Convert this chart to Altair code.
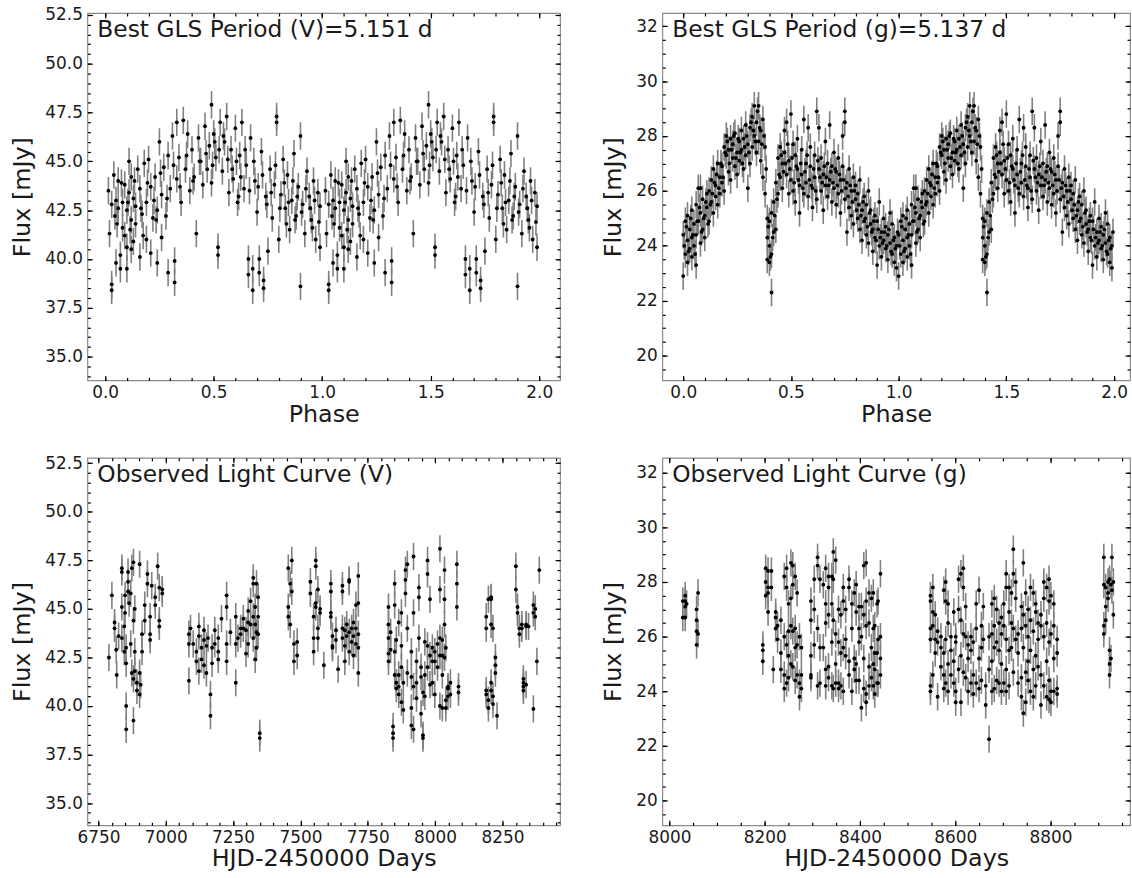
import altair as alt
import pandas as pd

FONT = "DejaVu Sans"
TXT = "#1a1a1a"

# ---------------- data ----------------
V_ERR = 0.7   # typical V-band flux error [mJy]
G_ERR = 0.5   # typical g-band flux error [mJy]

# phase-folded V band: (phase, flux)
V_PHASE_PTS = [
    (0.02, 41.3), (0.03, 38.7), (0.03, 38.4), (0.03, 42.8), (0.04, 44.3), (0.05, 39.8), (0.05, 43.0),
    (0.06, 42.6), (0.06, 44.0), (0.07, 40.2), (0.07, 39.5), (0.08, 42.9), (0.08, 41.6), (0.09, 43.8),
    (0.09, 41.2), (0.10, 40.6), (0.10, 39.5), (0.10, 42.5), (0.11, 45.0), (0.11, 43.4), (0.12, 40.5),
    (0.12, 42.0), (0.12, 44.2), (0.13, 40.9), (0.13, 43.1), (0.14, 41.8), (0.14, 42.7), (0.15, 44.6),
    (0.16, 40.1), (0.16, 43.6), (0.17, 42.3), (0.18, 44.9), (0.19, 41.0), (0.19, 42.9), (0.20, 45.1),
    (0.21, 40.3), (0.21, 43.7), (0.22, 42.1), (0.23, 44.2), (0.24, 39.8), (0.24, 42.5), (0.25, 46.0),
    (0.26, 41.1), (0.26, 43.3), (0.27, 44.7), (0.28, 42.2), (0.29, 39.3), (0.29, 45.3), (0.30, 43.6),
    (0.31, 46.3), (0.32, 39.9), (0.32, 38.8), (0.33, 47.0), (0.33, 44.1), (0.34, 45.2), (0.35, 42.9),
    (0.36, 47.1), (0.37, 44.6), (0.38, 46.4), (0.39, 43.5), (0.40, 45.6), (0.41, 44.2), (0.42, 41.3),
    (0.43, 46.2), (0.44, 45.0), (0.45, 43.8), (0.46, 46.8), (0.47, 44.6), (0.48, 45.8), (0.49, 47.9),
    (0.49, 43.9), (0.50, 46.4), (0.51, 45.2), (0.52, 40.6), (0.52, 40.2), (0.53, 47.0), (0.54, 44.5),
    (0.55, 46.0), (0.56, 47.3), (0.57, 43.4), (0.58, 45.6), (0.59, 44.1), (0.60, 46.7), (0.61, 42.9),
    (0.62, 45.3), (0.63, 47.0), (0.64, 43.6), (0.65, 44.8), (0.66, 40.0), (0.66, 39.2), (0.67, 46.2),
    (0.68, 38.4), (0.68, 39.5), (0.69, 44.0), (0.70, 42.4), (0.71, 40.0), (0.71, 39.3), (0.72, 45.5),
    (0.73, 38.9), (0.73, 38.5), (0.74, 43.2), (0.75, 40.4), (0.76, 44.6), (0.77, 42.1), (0.78, 43.8),
    (0.79, 47.3), (0.79, 47.0), (0.80, 41.0), (0.81, 43.3), (0.82, 45.1), (0.83, 42.6), (0.84, 44.3),
    (0.85, 41.5), (0.86, 43.0), (0.87, 45.4), (0.88, 42.2), (0.89, 43.7), (0.90, 38.6), (0.90, 46.3),
    (0.91, 42.8), (0.92, 41.3), (0.93, 44.5), (0.94, 43.2), (0.95, 42.0), (0.96, 44.0), (0.97, 41.0),
    (0.98, 43.4), (0.99, 40.6), (0.99, 42.7),
    (0.015, 43.5), (0.045, 42.2), (0.075, 43.9), (0.105, 42.9), (0.135, 44.0), (0.165, 42.6),
    (0.195, 43.9), (0.225, 43.0), (0.255, 44.4), (0.285, 43.1), (0.315, 44.8), (0.345, 43.7),
    (0.375, 45.3), (0.405, 44.0), (0.435, 45.0), (0.465, 45.4), (0.495, 44.8), (0.505, 46.0),
    (0.525, 45.6), (0.545, 46.3), (0.565, 45.1), (0.585, 44.6), (0.605, 45.0), (0.625, 44.2),
    (0.645, 45.6), (0.665, 43.5), (0.685, 45.0), (0.705, 43.7), (0.725, 44.3), (0.745, 42.8),
    (0.765, 43.4), (0.785, 44.8), (0.805, 42.6), (0.825, 43.9), (0.845, 42.9), (0.865, 44.0),
    (0.885, 43.2), (0.905, 42.4), (0.925, 43.6), (0.945, 42.6), (0.965, 43.0), (0.985, 41.9),
    (0.055, 41.8), (0.115, 41.5), (0.175, 41.2), (0.235, 42.0), (0.615, 43.2), (0.835, 41.8),
    (0.875, 42.0), (0.955, 41.6),
]

# phase-folded g band: (phase, flux)
G_PHASE_PTS = [
    (0.00, 22.9), (0.00, 24.4), (0.01, 23.7), (0.01, 24.9), (0.02, 24.2), (0.02, 23.4), (0.02, 25.1),
    (0.03, 24.6), (0.03, 23.9), (0.04, 24.3), (0.04, 25.3), (0.04, 23.6), (0.05, 24.8), (0.05, 24.0),
    (0.06, 25.5), (0.06, 24.4), (0.06, 23.3), (0.07, 26.1), (0.07, 24.9), (0.08, 24.1), (0.08, 25.2),
    (0.08, 26.1), (0.09, 24.6), (0.09, 25.7), (0.10, 24.3), (0.10, 25.1), (0.11, 25.9), (0.11, 25.4),
    (0.12, 24.9), (0.12, 26.0), (0.13, 25.6), (0.13, 26.4), (0.14, 25.2), (0.14, 26.8), (0.15, 25.8),
    (0.15, 26.2), (0.16, 27.0), (0.16, 25.5), (0.17, 26.5), (0.17, 25.9), (0.18, 26.9), (0.18, 26.3),
    (0.19, 27.6), (0.19, 26.0), (0.20, 27.3), (0.20, 28.0), (0.21, 26.7), (0.21, 27.5), (0.22, 27.9),
    (0.22, 26.4), (0.23, 27.2), (0.23, 27.7), (0.24, 26.9), (0.24, 28.1), (0.25, 27.4), (0.25, 26.6),
    (0.26, 27.8), (0.26, 27.1), (0.27, 28.2), (0.27, 27.5), (0.28, 26.8), (0.28, 27.9), (0.29, 27.3),
    (0.29, 28.4), (0.30, 26.1), (0.30, 27.7), (0.31, 28.3), (0.31, 27.0), (0.32, 28.7), (0.32, 27.6),
    (0.33, 28.0), (0.33, 29.1), (0.34, 27.4), (0.34, 28.5), (0.35, 29.1), (0.35, 27.8), (0.36, 28.2),
    (0.36, 27.1), (0.37, 28.6), (0.37, 26.5), (0.38, 27.6), (0.38, 25.9), (0.39, 24.3), (0.39, 25.0),
    (0.39, 23.5), (0.40, 24.9), (0.40, 23.4), (0.40, 24.0), (0.41, 22.3), (0.41, 23.7), (0.41, 25.2),
    (0.42, 24.5), (0.42, 25.6), (0.43, 24.6), (0.43, 26.3), (0.44, 27.2), (0.44, 25.9), (0.45, 27.6),
    (0.45, 26.5), (0.46, 27.0), (0.46, 26.1), (0.47, 28.2), (0.47, 27.4), (0.48, 26.6), (0.48, 28.5),
    (0.49, 27.1), (0.49, 25.9), (0.50, 28.8), (0.50, 26.4), (0.51, 27.7), (0.51, 26.0), (0.52, 27.3),
    (0.52, 25.6), (0.53, 26.8), (0.53, 27.9), (0.54, 26.2), (0.54, 25.2), (0.55, 27.5), (0.55, 26.6),
    (0.56, 28.6), (0.56, 25.9), (0.57, 27.0), (0.57, 26.3), (0.58, 28.3), (0.58, 25.8), (0.59, 26.9),
    (0.59, 27.6), (0.60, 26.1), (0.60, 25.4), (0.61, 27.3), (0.61, 26.5), (0.62, 28.9), (0.62, 25.7),
    (0.63, 26.8), (0.63, 28.3), (0.64, 26.0), (0.64, 27.2), (0.65, 25.3), (0.65, 26.6), (0.66, 27.8),
    (0.66, 26.2), (0.67, 25.8), (0.67, 27.0), (0.68, 26.4), (0.68, 28.4), (0.69, 25.6), (0.69, 26.9),
    (0.70, 27.4), (0.70, 26.1), (0.71, 25.5), (0.71, 26.7), (0.72, 27.2), (0.72, 25.9), (0.73, 26.4),
    (0.73, 25.2), (0.74, 26.9), (0.74, 28.0), (0.75, 28.9), (0.75, 28.5), (0.75, 25.7), (0.76, 26.3),
    (0.76, 24.5), (0.77, 26.8), (0.77, 25.4), (0.78, 26.0), (0.78, 25.1), (0.79, 26.5), (0.79, 24.8),
    (0.80, 25.7), (0.80, 26.2), (0.81, 25.0), (0.81, 25.9), (0.82, 24.6), (0.82, 26.4), (0.83, 25.3),
    (0.83, 24.2), (0.84, 25.8), (0.84, 24.9), (0.85, 24.4), (0.85, 25.5), (0.86, 26.0), (0.86, 24.1),
    (0.87, 24.8), (0.87, 25.3), (0.88, 23.8), (0.88, 24.6), (0.89, 25.1), (0.89, 24.3), (0.90, 23.3),
    (0.90, 24.9), (0.91, 24.0), (0.91, 25.6), (0.92, 24.5), (0.92, 23.6), (0.93, 24.2), (0.93, 25.0),
    (0.94, 23.9), (0.94, 24.7), (0.95, 23.5), (0.95, 24.4), (0.96, 24.1), (0.96, 25.2), (0.97, 23.7),
    (0.97, 24.8), (0.98, 23.4), (0.98, 24.3), (0.99, 24.0), (0.99, 23.2),
    (0.005, 24.0), (0.015, 24.7), (0.025, 23.8), (0.035, 25.0), (0.045, 24.4), (0.055, 23.7),
    (0.065, 24.9), (0.075, 25.4), (0.085, 24.5), (0.095, 25.0), (0.105, 25.6), (0.115, 24.8),
    (0.125, 25.5), (0.135, 25.9), (0.145, 26.3), (0.155, 26.6), (0.165, 26.1), (0.175, 27.0),
    (0.185, 26.5), (0.195, 27.4), (0.205, 27.8), (0.215, 27.0), (0.225, 27.5), (0.235, 28.0),
    (0.245, 27.2), (0.255, 27.9), (0.265, 27.4), (0.275, 27.0), (0.285, 27.6), (0.295, 28.0),
    (0.305, 27.4), (0.315, 28.5), (0.325, 28.2), (0.335, 27.8), (0.345, 28.9), (0.355, 28.3),
    (0.365, 27.7), (0.375, 28.0), (0.385, 26.8), (0.395, 24.7), (0.405, 23.6), (0.415, 24.3),
    (0.425, 25.1), (0.435, 25.7), (0.445, 26.6), (0.455, 27.3), (0.465, 26.7), (0.475, 27.0),
    (0.485, 27.7), (0.495, 26.8), (0.505, 27.2), (0.515, 26.3), (0.525, 26.9), (0.535, 26.4),
    (0.545, 27.0), (0.555, 26.1), (0.565, 26.7), (0.575, 27.3), (0.585, 26.4), (0.595, 26.2),
    (0.605, 26.8), (0.615, 26.0), (0.625, 27.1), (0.635, 26.5), (0.645, 26.3), (0.655, 26.9),
    (0.665, 26.5), (0.675, 26.2), (0.685, 26.7), (0.695, 26.3), (0.705, 26.8), (0.715, 26.2),
    (0.725, 26.6), (0.735, 26.0), (0.745, 26.4), (0.755, 26.1), (0.765, 25.8), (0.775, 26.2),
    (0.785, 25.6), (0.795, 26.0), (0.805, 25.3), (0.815, 25.5), (0.825, 25.1), (0.835, 25.6),
    (0.845, 25.0), (0.855, 24.7), (0.865, 25.2), (0.875, 24.5), (0.885, 24.9), (0.895, 24.2),
    (0.905, 24.6), (0.915, 24.3), (0.925, 24.1), (0.935, 24.5), (0.945, 24.0), (0.955, 24.6),
    (0.965, 23.8), (0.975, 24.2), (0.985, 23.9), (0.995, 24.5),
]

# V-band light curve: (HJD-2450000, [fluxes observed around that date])
V_TIME_PTS = [
    (6789, [42.5]), (6800, [45.7]), (6810, [44.3, 44.0]), (6816, [42.9]), (6818, [41.6]), (6825, [43.6]),
    (6837, [47.1, 46.9, 45.1, 43.5]), (6846, [44.1, 42.8]), (6849, [45.7, 44.8]),
    (6853, [40.0, 38.8, 43.0, 42.2]), (6860, [46.9, 46.4, 45.9]), (6864, [45.3]), (6870, [45.8, 43.2]),
    (6874, [47.1, 41.7]), (6880, [47.4, 44.4, 41.4, 39.25]), (6885, [45.0, 42.8, 41.8]),
    (6893, [41.2, 40.8]), (6903, [47.3, 41.7, 40.6]), (6907, [41.1]), (6912, [43.7, 42.8]),
    (6922, [45.2, 44.4]), (6932, [46.8, 46.3]), (6942, [44.6, 43.7, 43.4]), (6948, [46.2]),
    (6961, [45.6, 45.2]), (6970, [47.2]), (6976, [46.1, 44.4, 44.1]), (6987, [46.0, 45.8]),
    (7086, [43.7, 43.2, 41.3]), (7092, [44.0]), (7102, [43.2]), (7114, [42.8, 42.3]),
    (7123, [44.1, 43.6, 41.8]), (7133, [43.0, 42.4]), (7142, [43.9, 43.4, 42.1]), (7151, [41.7, 43.1]),
    (7157, [43.5]), (7166, [40.6, 39.5]), (7172, [43.0, 42.2]), (7182, [43.9, 43.2]),
    (7195, [43.5, 42.8, 42.4]), (7207, [44.5]), (7226, [45.7, 45.1, 43.2, 42.3]), (7240, [43.8]),
    (7260, [44.6, 43.2, 41.2]), (7268, [43.5]), (7278, [44.0, 43.7]), (7288, [44.5, 44.0]),
    (7298, [43.9, 42.7]), (7306, [44.9, 44.3, 43.2]), (7315, [45.4, 44.2]),
    (7325, [46.6, 46.3, 44.6, 43.5]), (7332, [45.1, 44.2, 42.4]), (7337, [46.3, 43.8, 43.0]),
    (7343, [45.6, 44.6, 43.7]), (7349, [38.6, 38.35]),
    (7455, [47.1, 45.1, 44.6]), (7462, [46.3, 44.2]), (7468, [47.5, 45.9]), (7476, [43.2, 42.3]),
    (7488, [43.3, 42.6]), (7537, [46.4, 45.8]), (7549, [44.6, 43.5, 42.8]),
    (7557, [47.5, 47.2, 45.3, 45.1]), (7565, [46.0, 44.0, 43.5]), (7573, [45.0, 44.8]), (7587, [42.1]),
    (7613, [46.3, 45.9, 44.8, 44.6]), (7619, [43.6, 43.1, 43.0]), (7632, [43.9, 43.4]), (7640, [41.9]),
    (7656, [46.2, 45.9, 44.0, 43.5]), (7665, [43.9, 43.1, 42.3]), (7672, [44.2, 43.6]),
    (7681, [46.5, 46.4, 43.8, 42.8]), (7690, [44.0, 43.3]), (7697, [44.3, 43.6, 42.6]),
    (7706, [45.2, 44.0, 43.2]), (7715, [46.7, 45.3, 43.7, 43.0, 41.7]),
    (7827, [45.1, 44.2, 43.5, 42.7, 42.3]), (7835, [43.8, 42.9]), (7844, [38.95, 38.6, 38.35]),
    (7850, [46.3, 45.2, 42.8, 41.6]), (7856, [43.4, 41.2, 40.9]), (7865, [44.3, 41.6, 41.0, 40.6]),
    (7875, [44.8, 43.1, 42.0, 40.2]), (7882, [41.2, 39.8]), (7890, [47.0, 46.5, 45.8]),
    (7897, [47.3, 44.0, 41.7]), (7912, [42.8, 41.5, 39.9, 39.0]), (7920, [47.7, 44.8, 41.0, 38.8]),
    (7931, [42.3, 41.2, 40.4]), (7940, [46.1, 45.6, 43.5]), (7948, [42.0, 41.5, 39.6]),
    (7955, [40.7, 38.5, 38.35]), (7962, [43.3, 41.6, 40.5]), (7972, [47.5, 46.8, 43.1, 42.0]),
    (7981, [45.5, 42.6, 41.1]), (7990, [43.0, 42.3, 41.2]), (7999, [42.8, 42.3, 40.6]),
    (8009, [43.2, 42.0]), (8018, [48.1, 46.0, 43.5, 42.6, 40.0]), (8027, [43.4, 42.6, 41.6, 39.9]),
    (8035, [47.0, 45.5, 44.2, 42.5]), (8040, [43.0, 40.3, 39.9]), (8048, [41.0, 40.9, 40.5]),
    (8057, [41.2, 40.6]), (8081, [47.3, 46.3, 45.1]), (8087, [40.7, 41.0]),
    (8190, [44.6, 44.0, 40.8, 40.6]), (8198, [45.5, 40.3, 39.9]), (8208, [45.6, 45.5, 44.2, 41.2, 40.8]),
    (8215, [44.0, 40.5, 40.1]), (8224, [42.5, 42.1, 41.7]), (8230, [39.5]),
    (8300, [47.2, 46.0]), (8306, [45.1, 44.8]), (8313, [44.0, 43.7]), (8322, [44.2, 44.0]),
    (8328, [41.4, 41.2, 41.0, 40.8]), (8338, [44.2, 44.1, 41.1]), (8347, [44.1]),
    (8365, [45.2, 44.8, 39.85]), (8372, [45.0, 44.6]), (8378, [42.3]), (8387, [47.0]),
]

# g-band light curve: (HJD-2450000, [fluxes observed around that date])
G_TIME_PTS = [
    (8028, [27.3, 26.7]), (8033, [27.5, 27.3, 27.1, 26.7]), (8036, [27.2]),
    (8057, [27.0, 26.6, 26.2, 25.7]), (8060, [27.6, 26.1]),
    (8196, [25.7, 25.5, 25.1]), (8202, [28.5, 28.0, 27.5]), (8207, [28.4, 27.8, 27.6, 26.9]),
    (8214, [28.4, 27.8]), (8218, [24.8]), (8223, [26.9, 26.7, 26.3]), (8227, [26.4, 25.9]),
    (8234, [26.6, 25.4, 24.8]), (8241, [28.2, 26.0, 24.6, 24.1]), (8246, [28.5, 27.8, 25.7, 24.3]),
    (8250, [27.2, 26.2, 25.3, 24.5]), (8255, [28.7, 27.4, 26.4, 25.0]), (8259, [28.6, 27.9, 26.2, 24.9]),
    (8264, [28.2, 26.3, 25.6, 24.4]), (8268, [27.6, 25.7, 24.6]), (8273, [26.0, 24.3, 23.8]),
    (8277, [25.6, 24.6, 24.1]), (8297, [27.3, 26.6, 25.3, 24.6, 24.5]), (8304, [28.1, 27.0, 25.7]),
    (8311, [28.9, 28.6, 26.3, 24.2]), (8316, [28.1, 25.6, 24.3]), (8323, [27.9, 25.6]),
    (8328, [28.5, 27.2, 26.5, 24.8, 24.2]), (8334, [28.2, 27.8, 26.8, 24.9, 24.5]),
    (8341, [28.2, 27.2, 25.8, 24.2]), (8344, [29.1, 28.1, 26.6, 24.1]), (8349, [28.8, 26.1, 25.0, 24.3]),
    (8355, [27.0, 25.8, 24.3, 24.1]), (8360, [26.8, 25.4, 24.2]), (8365, [27.8, 27.3, 25.6, 24.0]),
    (8370, [27.0, 25.9, 25.3]), (8377, [28.1, 27.8, 25.1, 24.6]), (8383, [27.2, 26.3, 24.0]),
    (8388, [27.6, 25.2, 24.8]), (8392, [27.9, 26.9, 25.0, 24.4]), (8398, [27.1, 26.3, 25.8, 24.4]),
    (8403, [27.1, 26.0, 23.4]), (8408, [28.6, 26.8, 25.2, 24.1]), (8413, [28.7, 27.3, 26.4, 23.9, 23.6]),
    (8419, [27.6, 26.5, 24.9, 24.2]), (8424, [27.4, 25.6, 24.5]), (8428, [27.6, 26.3, 25.0, 24.2]),
    (8431, [26.4, 25.4, 24.8, 23.9]), (8436, [27.2, 25.4, 24.3]), (8438, [27.3, 25.9, 24.3]),
    (8443, [28.3, 26.0, 25.2, 24.6]),
    (8548, [27.5, 27.3, 26.3, 25.9, 24.2, 24.0]), (8553, [27.8, 26.9, 26.4, 24.6]),
    (8558, [26.8, 25.9, 25.4]), (8563, [26.2, 25.8, 23.8]), (8570, [26.0, 25.6, 24.9]),
    (8576, [27.7, 25.4, 24.6, 24.1]), (8580, [28.0, 27.3, 25.9, 24.3]), (8585, [27.2, 26.5, 25.0, 24.0]),
    (8591, [26.0, 25.5, 24.6]), (8597, [26.9, 25.1, 24.3]), (8601, [26.0, 25.8, 24.0, 23.6]),
    (8607, [28.1, 27.0, 24.8]), (8612, [28.3, 26.6, 25.3, 23.6]), (8617, [28.5, 27.8, 26.1, 24.7]),
    (8622, [27.1, 26.0, 24.5]), (8627, [25.7, 25.2, 24.0]), (8633, [26.0, 25.5, 24.3]),
    (8638, [25.8, 24.6, 23.9]), (8644, [27.2, 26.3, 24.3]), (8650, [27.7, 25.2, 24.1]),
    (8655, [26.4, 25.6, 24.4]), (8659, [27.1, 25.9]), (8664, [24.2, 23.5]), (8671, [26.0, 24.8, 22.25]),
    (8677, [27.2, 26.1, 25.1, 24.0]), (8682, [27.4, 26.4, 25.6, 24.1]), (8687, [27.0, 25.8, 24.4]),
    (8692, [26.5, 25.5, 24.3]), (8697, [26.7, 26.1, 25.0, 24.0]), (8702, [27.2, 26.4, 24.3]),
    (8707, [28.3, 27.8, 25.9, 24.8, 24.0]), (8713, [27.8, 26.9, 25.5, 24.2]), (8718, [27.6, 26.5, 25.6]),
    (8722, [29.2, 28.3, 26.3, 24.7]), (8727, [28.0, 27.4, 25.9]), (8732, [26.1, 25.4, 24.3]),
    (8739, [27.1, 26.3, 24.5, 23.8]), (8743, [28.7, 26.8, 25.6, 23.2]), (8748, [27.6, 26.4, 24.7, 23.6]),
    (8753, [27.0, 26.0, 25.1, 24.4]), (8758, [27.8, 26.6, 25.5, 24.0]), (8764, [27.6, 26.2, 24.8, 23.8]),
    (8769, [27.2, 26.9, 25.3, 24.2]), (8774, [26.5, 25.9, 24.9]), (8780, [26.8, 26.4, 24.6, 23.5]),
    (8786, [28.0, 27.4, 26.0, 24.2]), (8792, [27.8, 26.5, 25.1, 23.8]),
    (8797, [28.1, 27.3, 25.8, 24.4, 23.7]), (8801, [27.5, 26.1, 24.0, 23.6]),
    (8807, [27.2, 26.4, 25.2, 24.0]), (8814, [25.9, 25.4, 24.1, 23.9]),
    (8912, [28.9, 27.9, 26.4, 26.1]), (8916, [27.8, 27.1, 26.6]), (8921, [28.0, 27.6, 27.4]),
    (8924, [28.1, 25.5, 25.0, 24.6]), (8927, [27.9, 25.2]), (8929, [28.9, 27.7]), (8932, [28.0, 26.8]),
]

LABELS = ["Best GLS Period (V)=5.151 d", "Best GLS Period (g)=5.137 d",
          "Observed Light Curve (V)", "Observed Light Curve (g)"]
X_TITLES = ["Phase", "Phase", "HJD-2450000 Days", "HJD-2450000 Days"]
Y_TITLE = "Flux [mJy]"

PHASE_MAJOR = [0.0, 0.5, 1.0, 1.5, 2.0]
V_FLUX_MAJOR = [35.0, 37.5, 40.0, 42.5, 45.0, 47.5, 50.0, 52.5]
G_FLUX_MAJOR = [20, 22, 24, 26, 28, 30, 32]
V_HJD_MAJOR = [6750, 7000, 7250, 7500, 7750, 8000, 8250]
G_HJD_MAJOR = [8000, 8200, 8400, 8600, 8800]


# ---------------- build tables ----------------
def phase_df(pts, err):
    rows = []
    for shift in (0.0, 1.0):
        for p, f in pts:
            rows.append({"x": p + shift, "y": f, "lo": f - err, "hi": f + err})
    return pd.DataFrame(rows)


def time_df(pts, err):
    rows = []
    for t, fl in pts:
        for f in fl:
            rows.append({"x": t, "y": f, "lo": f - err, "hi": f + err})
    return pd.DataFrame(rows)


def steps(a, b, s):
    n = int(round((b - a) / s))
    return [round(a + i * s, 4) for i in range(n + 1)]


MAJ = 5
MIN = 3


def panel(df, xdom, ydom, xmaj, xmin_, ymaj, ymin_, xfmt, yfmt, xtitle, label, w, h):
    xs = alt.Scale(domain=xdom, nice=False, zero=False)
    ys = alt.Scale(domain=ydom, nice=False, zero=False)
    xmaj = [v for v in xmaj if xdom[0] <= v <= xdom[1]]
    xmin_ = [v for v in xmin_ if xdom[0] <= v <= xdom[1]]
    ymaj = [v for v in ymaj if ydom[0] <= v <= ydom[1]]
    ymin_ = [v for v in ymin_ if ydom[0] <= v <= ydom[1]]

    x_axis = alt.Axis(orient="bottom", values=xmaj, format=xfmt, ticks=False, domain=False, grid=False,
                      labelFlush=False, labelPadding=4, labelFontSize=17, labelFont=FONT, labelColor=TXT,
                      title=xtitle, titleFontSize=24, titleFont=FONT, titleFontWeight="normal",
                      titleColor=TXT, titlePadding=2)
    y_axis = alt.Axis(orient="left", values=ymaj, format=yfmt, ticks=False, domain=False, grid=False,
                      labelFlush=False, labelPadding=5, labelFontSize=17, labelFont=FONT, labelColor=TXT,
                      title=Y_TITLE, titleFontSize=24, titleFont=FONT, titleFontWeight="normal",
                      titleColor=TXT, titlePadding=10)

    err = alt.Chart(df).mark_rule(color="#808080", strokeWidth=1.6, clip=True).encode(
        x=alt.X("x:Q", scale=xs, axis=x_axis),
        y=alt.Y("lo:Q", scale=ys, axis=y_axis),
        y2="hi:Q",
    )
    pts = alt.Chart(df).mark_circle(size=15, color="black", opacity=1, clip=True).encode(
        x=alt.X("x:Q", scale=xs, axis=None),
        y=alt.Y("y:Q", scale=ys, axis=None),
    )

    def tick_layer(size, xo, yo, xv, yv):
        def ax(orient, vals):
            return alt.Axis(orient=orient, values=vals, labels=False, domain=False, grid=False,
                            ticks=True, tickSize=size, tickColor="black", tickWidth=1.2,
                            offset=-size, title=None)
        return alt.Chart(df.head(1)).mark_point(opacity=0).encode(
            x=alt.X("x:Q", scale=xs, axis=ax(xo, xv)),
            y=alt.Y("y:Q", scale=ys, axis=ax(yo, yv)),
        )

    layers = [
        err, pts,
        tick_layer(MAJ, "bottom", "left", xmaj, ymaj),
        tick_layer(MAJ, "top", "right", xmaj, ymaj),
        tick_layer(MIN, "bottom", "left", xmin_, ymin_),
        tick_layer(MIN, "top", "right", xmin_, ymin_),
    ]
    txt = alt.Chart(pd.DataFrame({"t": [label]})).mark_text(
        align="left", baseline="alphabetic", fontSize=23.5, font=FONT, color=TXT
    ).encode(x=alt.value(10), y=alt.value(24), text="t:N")
    layers.append(txt)
    return alt.layer(*layers).resolve_scale(x="independent", y="independent").properties(width=w, height=h)


p1 = panel(phase_df(V_PHASE_PTS, V_ERR), [-0.082, 2.096], [33.78, 52.6],
           PHASE_MAJOR, steps(0.0, 2.0, 0.1), V_FLUX_MAJOR, steps(34.0, 52.5, 0.5),
           ".1f", ".1f", X_TITLES[0], LABELS[0], 476, 370)
p2 = panel(phase_df(G_PHASE_PTS, G_ERR), [-0.097, 2.074], [19.1, 32.48],
           PHASE_MAJOR, steps(0.0, 2.0, 0.1), G_FLUX_MAJOR, steps(19.5, 32.0, 0.5),
           ".1f", "d", X_TITLES[1], LABELS[1], 471, 370)
p3 = panel(time_df(V_TIME_PTS, V_ERR), [6709, 8464], [33.86, 52.78],
           V_HJD_MAJOR, steps(6750, 8450, 50), V_FLUX_MAJOR, steps(34.0, 52.5, 0.5),
           "d", ".1f", X_TITLES[2], LABELS[2], 476, 370)
p4 = panel(time_df(G_TIME_PTS, G_ERR), [7985, 8967], [19.1, 32.54],
           G_HJD_MAJOR, steps(8000, 8950, 50), G_FLUX_MAJOR, steps(19.5, 32.0, 0.5),
           "d", "d", X_TITLES[3], LABELS[3], 471, 370)

top = alt.hconcat(p1, p2, spacing=39)
bot = alt.hconcat(p3, p4, spacing=39)
chart = alt.vconcat(top, bot, spacing=26).properties(
    padding={"left": 10, "top": 2, "right": 0, "bottom": 0},
    background="white",
).configure_view(stroke="#8c8c8c", strokeWidth=1.2)

chart.save("out.html", embed_options={"renderer": "svg", "actions": False})
